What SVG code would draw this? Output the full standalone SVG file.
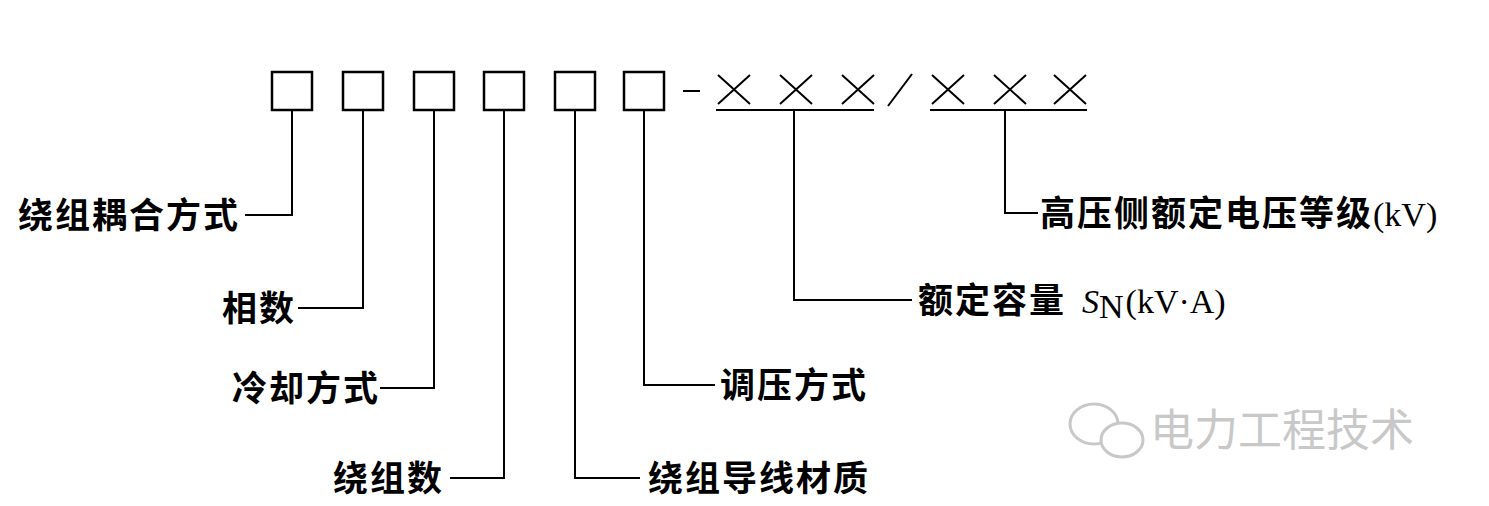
<svg xmlns="http://www.w3.org/2000/svg" width="1489" height="506" viewBox="0 0 1489 506">
<style>
.b{fill:none;stroke:#000;stroke-width:2.5}
.l{fill:none;stroke:#000;stroke-width:2}
.t{font-family:"Noto Sans CJK SC",sans-serif;font-size:35px;font-weight:bold;fill:#000;letter-spacing:2px}
.s{font-family:"Liberation Serif",serif;font-size:34px;fill:#000}
.w{font-family:"Noto Sans CJK SC",sans-serif;font-size:44px;fill:#c8c8c8}
</style>
<rect width="1489" height="506" fill="#fff"/>
<g id="boxes">
<rect class="b" x="272" y="72" width="40" height="38"/>
<rect class="b" x="343" y="72" width="40" height="38"/>
<rect class="b" x="414" y="72" width="40" height="38"/>
<rect class="b" x="484" y="72" width="40" height="38"/>
<rect class="b" x="555" y="72" width="40" height="38"/>
<rect class="b" x="624" y="72" width="40" height="38"/>
<line class="l" x1="683" y1="91" x2="700" y2="91"/>
</g>
<g id="xs" class="l">
<path d="M718 75L750 104M750 75L718 104M780 75L812 104M812 75L780 104M842 75L874 104M874 75L842 104"/>
<path d="M888 106L912 74"/>
<path d="M932 75L964 104M964 75L932 104M994 75L1026 104M1026 75L994 104M1054 75L1086 104M1086 75L1054 104"/>
<path d="M716 110H874M930 110H1087"/>
</g>
<g id="connectors" class="l">
<path d="M292 110V215H245"/>
<path d="M363 110V308H298"/>
<path d="M434 110V388H380"/>
<path d="M504 110V478H450"/>
<path d="M575 110V478H640"/>
<path d="M644 110V385H715"/>
<path d="M794 110V300H912"/>
<path d="M1005 110V213H1038"/>
</g>
<g id="labels">
<text class="t" x="18" y="228">绕组耦合方式</text>
<text class="t" x="222" y="321">相数</text>
<text class="t" x="232" y="401">冷却方式</text>
<text class="t" x="333" y="491">绕组数</text>
<text class="t" x="648" y="491">绕组导线材质</text>
<text class="t" x="720" y="398">调压方式</text>
<text x="918" y="313"><tspan class="t">额定容量</tspan><tspan class="s" font-style="italic" dx="16">S</tspan><tspan class="s" font-size="17" dy="5">N</tspan><tspan class="s" dy="-5" dx="2">(kV·A)</tspan></text>
<text x="1040" y="226"><tspan class="t">高压侧额定电压等级</tspan><tspan class="s">(kV)</tspan></text>
</g>
<g id="watermark">
<ellipse cx="1094" cy="424" rx="24" ry="20" fill="none" stroke="#c8c8c8" stroke-width="3"/>
<ellipse cx="1122" cy="440" rx="21" ry="17" fill="#fff" stroke="#c8c8c8" stroke-width="3"/>
<text class="w" x="1150" y="446">电力工程技术</text>
</g>
</svg>
